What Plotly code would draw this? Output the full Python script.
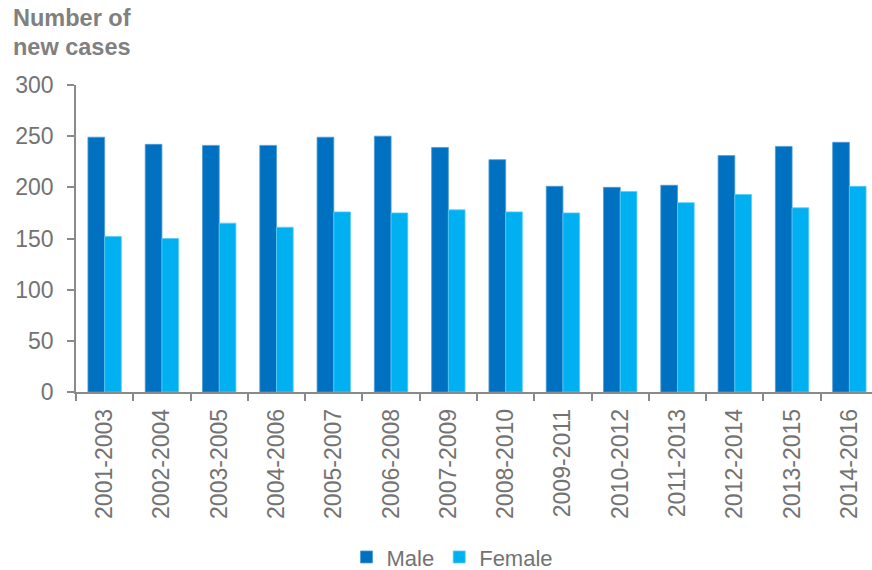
import plotly.graph_objects as go

periods = ["2001-2003", "2002-2004", "2003-2005", "2004-2006", "2005-2007",
           "2006-2008", "2007-2009", "2008-2010", "2009-2011", "2010-2012",
           "2011-2013", "2012-2014", "2013-2015", "2014-2016"]
male = [249, 242, 241, 241, 249, 250, 239, 227, 201, 200, 202, 231, 240, 244]
female = [152, 150, 165, 161, 176, 175, 178, 176, 175, 196, 185, 193, 180, 201]
y_ticks = [0, 50, 100, 150, 200, 250, 300]

FONT = "Arial, Liberation Sans, sans-serif"
AXIS_COL = "#8a8a8a"
TXT_COL = "#737373"

fig = go.Figure()
fig.add_trace(go.Bar(name="Male", x=periods, y=male,
                     marker=dict(color="#0070C0", line=dict(color="#4d9bd6", width=0.8))))
fig.add_trace(go.Bar(name="Female", x=periods, y=female,
                     marker=dict(color="#00B0F0", line=dict(color="#5ccdf5", width=0.8))))

fig.update_layout(
    width=872, height=570,
    margin=dict(l=76, r=0, t=85, b=178, autoexpand=False),
    paper_bgcolor="white", plot_bgcolor="white",
    barmode="group", bargap=0.417, bargroupgap=0,
    font=dict(family=FONT, color=TXT_COL),
    showlegend=True,
    legend=dict(orientation="h", x=0.473, xanchor="center", y=-0.538, yanchor="middle",
                font=dict(size=22, color=TXT_COL), bgcolor="rgba(0,0,0,0)",
                traceorder="normal"),
    xaxis=dict(
        type="category", range=[-0.5, 13.395], automargin=False,
        showline=True, linecolor=AXIS_COL, linewidth=1.5,
        ticks="outside", tickson="boundaries", ticklen=7, tickcolor=AXIS_COL, tickwidth=1.5,
        tickangle=-90, tickfont=dict(size=23, color=TXT_COL), ticklabelstandoff=6,
        showgrid=False, zeroline=False,
    ),
    yaxis=dict(
        range=[0, 300], tickvals=y_ticks, automargin=False,
        showline=True, linecolor=AXIS_COL, linewidth=1.5,
        ticks="outside", ticklen=7, tickcolor=AXIS_COL, tickwidth=1.5,
        tickfont=dict(size=23, color=TXT_COL), ticklabelstandoff=9,
        showgrid=False, zeroline=False,
    ),
    annotations=[
        dict(text="<b>Number of</b>", xref="paper", yref="paper",
             x=-0.082, y=1.2175, xanchor="left", yanchor="middle",
             showarrow=False, font=dict(size=23.5, color="#808080", family=FONT)),
        dict(text="<b>new cases</b>", xref="paper", yref="paper",
             x=-0.082, y=1.123, xanchor="left", yanchor="middle",
             showarrow=False, font=dict(size=23.5, color="#808080", family=FONT)),
    ],
)

fig.write_html("out.html", config={"displayModeBar": False},
               post_script="document.body.style.margin='0px';document.body.style.overflow='hidden';")
